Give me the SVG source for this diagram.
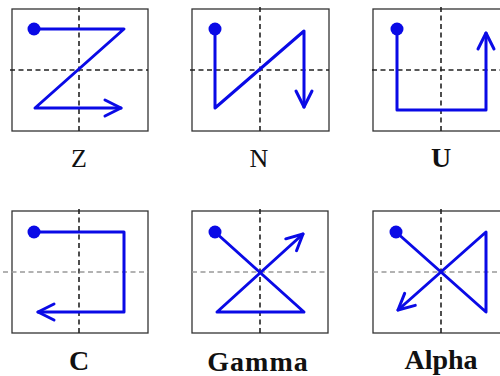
<svg xmlns="http://www.w3.org/2000/svg" width="500" height="376" viewBox="0 0 500 376">
<style>
.box{fill:#fff;stroke:#333;stroke-width:1.3}
.dk{stroke:#222;stroke-width:1.6;stroke-dasharray:5 3.5;fill:none}
.lt{stroke:#999;stroke-width:1.4;stroke-dasharray:5 3.5;fill:none}
.mv{fill:none;stroke:#0a0ae6;stroke-width:3;stroke-linejoin:round;stroke-linecap:round;marker-end:url(#ah)}
.dot{fill:#0a0ae6}
.lbl{font-family:"Liberation Serif","Times New Roman",serif;font-size:26px;text-anchor:middle;fill:#111}
.b{font-weight:bold;font-size:28px}
</style>
<defs>
<marker id="ah" markerUnits="userSpaceOnUse" viewBox="-20 -12 24 24" refX="0" refY="0" markerWidth="24" markerHeight="24" orient="auto">
<path d="M-16,-8 L0,0 L-16,8" fill="none" stroke="#0a0ae6" stroke-width="3" stroke-linecap="round" stroke-linejoin="round"/>
</marker>
</defs>
<rect width="500" height="376" fill="#fff"/>
<g id="Z">
<rect class="box" x="12" y="9" width="136" height="122"/>
<line class="dk" x1="79" y1="7" x2="79" y2="133"/>
<line class="dk" x1="10" y1="70" x2="148" y2="70"/>
<path class="mv" d="M34,29 L124,29 L35,108 L121,108"/>
<circle class="dot" cx="34" cy="29" r="6.5"/>
<text class="lbl" x="79" y="167">Z</text>
</g>
<g id="N">
<rect class="box" x="192" y="9" width="137" height="122"/>
<line class="dk" x1="260" y1="7" x2="260" y2="133"/>
<line class="dk" x1="190" y1="70" x2="329" y2="70"/>
<path class="mv" d="M215,29 L215,108 L304,31 L304,107"/>
<circle class="dot" cx="215" cy="29" r="6.5"/>
<text class="lbl" x="259" y="167">N</text>
</g>
<g id="U">
<rect class="box" x="373" y="9" width="140" height="122"/>
<line class="dk" x1="441" y1="7" x2="441" y2="133"/>
<line class="dk" x1="372" y1="70" x2="500" y2="70"/>
<path class="mv" d="M397,29 L397,110 L486,110 L486,33"/>
<circle class="dot" cx="397" cy="29" r="6.5"/>
<text class="lbl b" x="441" y="167">U</text>
</g>
<g id="C">
<rect class="box" x="12" y="211" width="136" height="122"/>
<line class="dk" x1="79" y1="209" x2="79" y2="335"/>
<line class="lt" x1="3" y1="272" x2="148" y2="272"/>
<path class="mv" d="M34,232 L124,232 L124,312 L38,312"/>
<circle class="dot" cx="34" cy="232" r="6.5"/>
<text class="lbl b" x="79" y="370">C</text>
</g>
<g id="Gamma">
<rect class="box" x="192" y="211" width="136" height="122"/>
<line class="dk" x1="260" y1="209" x2="260" y2="335"/>
<line class="lt" x1="192" y1="272" x2="328" y2="272"/>
<path class="mv" d="M215,232 L304,312 L217,312 L303,234"/>
<circle class="dot" cx="215" cy="232" r="6.5"/>
<text class="lbl b" x="258" y="371" letter-spacing="1">Gamma</text>
</g>
<g id="Alpha">
<rect class="box" x="373" y="211" width="140" height="122"/>
<line class="dk" x1="441" y1="209" x2="441" y2="335"/>
<line class="lt" x1="373" y1="272" x2="500" y2="272"/>
<path class="mv" d="M396,232 L486,312 L486,232 L398,310"/>
<circle class="dot" cx="396" cy="232" r="6.5"/>
<text class="lbl b" x="441" y="369">Alpha</text>
</g>
</svg>
